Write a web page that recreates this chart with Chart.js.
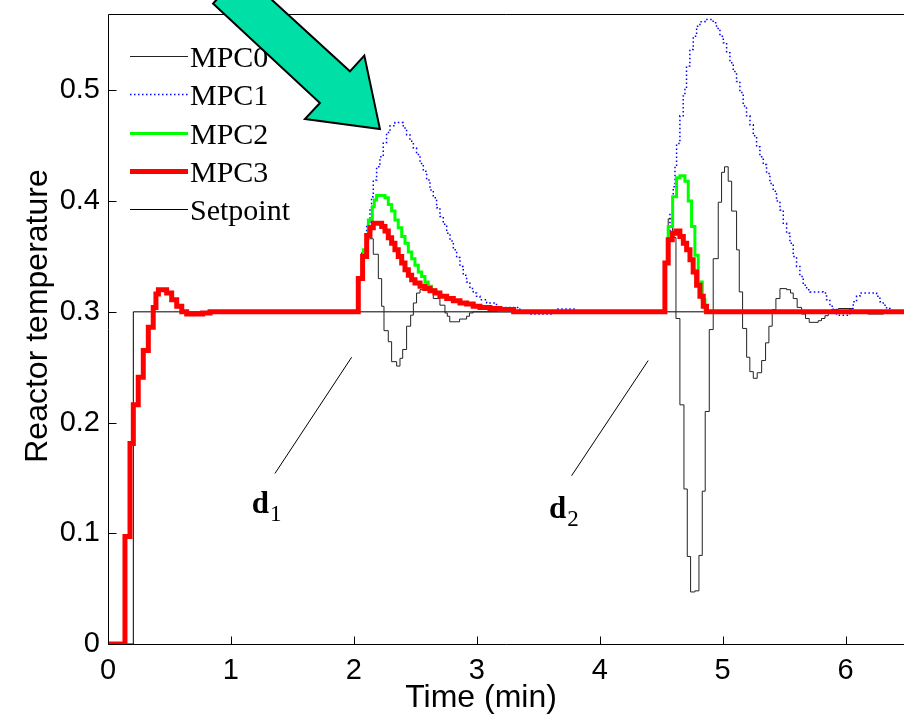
<!DOCTYPE html>
<html>
<head>
<meta charset="utf-8">
<script src="https://cdn.jsdelivr.net/npm/chart.js@4.4.1/dist/chart.umd.min.js"></script>
<style>
  html, body { margin: 0; padding: 0; background: #fff; }
  #wrap { width: 904px; height: 715px; }
</style>
</head>
<body>
<div id="wrap"><canvas id="chart" width="904" height="715"></canvas></div>
<script>
// Values (time in min, reactor temperature)
const tEnd = 6.475;
const yTop = 0.569;

// start-up transient, shared by all four controllers
const startT = [0, 0.138, 0.179, 0.206, 0.246, 0.287, 0.328, 0.368, 0.39, 0.41, 0.477, 0.518, 0.559, 0.60, 0.64, 0.77, 0.83];
const startV = [0, 0.097, 0.181, 0.216, 0.241, 0.265, 0.286, 0.304, 0.316, 0.320, 0.317, 0.311, 0.305, 0.300, 0.298, 0.299, 0.300];

// MPC0 (thin black)
const mpc0T = [2.036, 2.077, 2.118, 2.158, 2.199, 2.226, 2.245, 2.28, 2.307, 2.348, 2.375, 2.397, 2.429, 2.462, 2.484, 2.51, 2.538, 2.565, 2.62, 2.646, 2.70, 2.741, 2.76, 2.78, 2.86, 2.917, 2.94, 2.97,
  4.530, 4.557, 4.593, 4.62, 4.652, 4.685, 4.712, 4.739, 4.774, 4.807, 4.834, 4.858, 4.891, 4.923, 4.964, 4.991, 5.015, 5.045, 5.073, 5.113, 5.135, 5.162, 5.195, 5.221, 5.249, 5.281, 5.317, 5.349, 5.376, 5.403, 5.433, 5.466, 5.52, 5.552, 5.574, 5.606, 5.642, 5.674, 5.704, 5.777, 5.804, 5.832, 5.859, 5.886, 5.94, 6.05, 6.18, 6.31];
const mpc0V = [0.330, 0.350, 0.366, 0.352, 0.330, 0.305, 0.283, 0.273, 0.255, 0.251, 0.258, 0.266, 0.287, 0.297, 0.308, 0.317, 0.320, 0.323, 0.320, 0.312, 0.306, 0.299, 0.296, 0.291, 0.2935, 0.296, 0.299, 0.300,
  0.344, 0.384, 0.367, 0.294, 0.216, 0.140, 0.079, 0.047, 0.048, 0.080, 0.138, 0.210, 0.284, 0.348, 0.399, 0.426, 0.431, 0.418, 0.391, 0.356, 0.318, 0.285, 0.259, 0.246, 0.240, 0.245, 0.256, 0.272, 0.287, 0.302, 0.312, 0.321, 0.320, 0.317, 0.312, 0.304, 0.298, 0.294, 0.2905, 0.292, 0.294, 0.2965, 0.299, 0.302, 0.303, 0.300, 0.298, 0.300];

// MPC1 (blue dotted)
const mpc1T = [2.036, 2.063, 2.104, 2.131, 2.144, 2.158, 2.185, 2.212, 2.239, 2.266, 2.294, 2.334, 2.402, 2.429, 2.456, 2.484, 2.51, 2.538, 2.565, 2.592, 2.619, 2.646, 2.673, 2.70, 2.727, 2.755, 2.782, 2.809, 2.836, 2.863, 2.89, 2.917, 2.944, 2.971, 2.998, 3.026, 3.08, 3.16, 3.35, 3.44, 3.62, 3.66, 3.80,
  4.530, 4.557, 4.571, 4.598, 4.612, 4.625, 4.652, 4.679, 4.693, 4.706, 4.733, 4.761, 4.788, 4.815, 4.856, 4.923, 4.95, 4.978, 5.005, 5.032, 5.059, 5.086, 5.113, 5.14, 5.167, 5.194, 5.222, 5.249, 5.276, 5.303, 5.33, 5.357, 5.384, 5.411, 5.438, 5.466, 5.493, 5.52, 5.547, 5.574, 5.601, 5.628, 5.655, 5.683, 5.71, 5.818, 5.845, 5.872, 5.899, 5.926, 6.035, 6.062, 6.089, 6.116, 6.252, 6.279, 6.306, 6.333, 6.36];
const mpc1V = [0.330, 0.353, 0.377, 0.392, 0.404, 0.419, 0.431, 0.440, 0.453, 0.462, 0.468, 0.471, 0.466, 0.460, 0.454, 0.448, 0.442, 0.434, 0.427, 0.419, 0.410, 0.403, 0.394, 0.386, 0.379, 0.371, 0.364, 0.356, 0.349, 0.341, 0.333, 0.327, 0.321, 0.317, 0.314, 0.311, 0.308, 0.304, 0.301, 0.298, 0.301, 0.3025, 0.300,
  0.344, 0.371, 0.389, 0.413, 0.431, 0.452, 0.477, 0.495, 0.502, 0.522, 0.537, 0.549, 0.558, 0.562, 0.564, 0.561, 0.556, 0.549, 0.543, 0.534, 0.525, 0.517, 0.508, 0.498, 0.486, 0.477, 0.469, 0.459, 0.449, 0.440, 0.433, 0.425, 0.416, 0.409, 0.400, 0.392, 0.380, 0.371, 0.362, 0.350, 0.341, 0.332, 0.324, 0.320, 0.318, 0.317, 0.311, 0.305, 0.302, 0.297, 0.303, 0.309, 0.314, 0.317, 0.314, 0.309, 0.306, 0.303, 0.300];

// MPC2 (green)
const mpc2T = [2.036, 2.077, 2.104, 2.118, 2.15, 2.166, 2.185, 2.253, 2.28, 2.307, 2.334, 2.361, 2.389, 2.416, 2.443, 2.470, 2.497, 2.524, 2.551, 2.578, 2.605, 2.632, 2.66, 2.70, 2.755, 2.809, 2.863, 2.917, 2.971, 3.026, 3.107, 3.188, 3.30,
  4.530, 4.557, 4.593, 4.625, 4.652, 4.693, 4.72, 4.747, 4.774, 4.801, 4.834, 4.856];
const mpc2V = [0.330, 0.356, 0.366, 0.383, 0.395, 0.401, 0.405, 0.403, 0.397, 0.391, 0.383, 0.376, 0.368, 0.362, 0.354, 0.348, 0.342, 0.336, 0.332, 0.327, 0.323, 0.320, 0.317, 0.314, 0.312, 0.310, 0.308, 0.307, 0.305, 0.304, 0.303, 0.302, 0.300,
  0.344, 0.377, 0.404, 0.421, 0.423, 0.418, 0.400, 0.377, 0.351, 0.327, 0.311, 0.300];

// MPC3 (thick red)
const mpc3T = [2.036, 2.071, 2.104, 2.131, 2.158, 2.226, 2.253, 2.280, 2.307, 2.334, 2.361, 2.389, 2.416, 2.443, 2.470, 2.497, 2.538, 2.578, 2.619, 2.66, 2.70, 2.755, 2.809, 2.863, 2.917, 2.971, 3.026, 3.107, 3.188, 3.30,
  4.530, 4.557, 4.59, 4.62, 4.652, 4.68, 4.707, 4.734, 4.76, 4.788, 4.815, 4.842, 4.869];
const mpc3V = [0.330, 0.350, 0.369, 0.376, 0.380, 0.377, 0.373, 0.367, 0.362, 0.356, 0.350, 0.344, 0.338, 0.333, 0.329, 0.326, 0.323, 0.321, 0.319, 0.317, 0.314, 0.312, 0.310, 0.308, 0.307, 0.305, 0.304, 0.303, 0.302, 0.300,
  0.344, 0.365, 0.371, 0.373, 0.368, 0.362, 0.356, 0.347, 0.336, 0.324, 0.314, 0.305, 0.300];

// Setpoint
const spT = [0, 0.206, tEnd];
const spV = [0, 0.3, 0.3];

// Annotations (data coordinates)
const dNotes = [
  { name: "d", sub: "1", line: [[1.358, 0.154], [1.982, 0.259]], at: [1.169, 0.118] },
  { name: "d", sub: "2", line: [[3.771, 0.152], [4.394, 0.256]], at: [3.587, 0.1136] }
];
const arrowT = [0.854, 1.724, 1.602, 2.212, 2.085, 1.968, 1.09];
const arrowV = [0.5784, 0.4886, 0.4741, 0.4651, 0.5314, 0.5172, 0.6065];

function zip(ts, vs) {
  return ts.map((t, i) => ({ x: t, y: vs[i] }));
}

function series(ts, vs) {
  const pts = zip(startT.concat(ts), startV.concat(vs));
  pts.push({ x: tEnd, y: pts[pts.length - 1].y });
  return pts;
}

const sans = "'Liberation Sans', Arial, sans-serif";
const serif = "'Liberation Serif', 'Times New Roman', serif";

// axes frame, inward ticks, titles, legend, notes and arrow
const deco = {
  id: "deco",
  afterDraw(chart) {
    const { ctx, chartArea: a, scales: { x, y } } = chart;
    const L = Math.round(a.left) + 0.5, B = Math.round(a.bottom) + 0.5, T = Math.round(a.top) + 0.5;
    ctx.save();
    ctx.strokeStyle = "#000";
    ctx.lineWidth = 1;
    ctx.setLineDash([]);
    ctx.beginPath();
    ctx.moveTo(a.right, T); ctx.lineTo(L, T); ctx.lineTo(L, B); ctx.lineTo(a.right, B);
    x.ticks.forEach(t => {
      const px = Math.round(x.getPixelForValue(t.value)) + 0.5;
      ctx.moveTo(px, B); ctx.lineTo(px, B - 8);
    });
    y.ticks.forEach(t => {
      const py = Math.round(y.getPixelForValue(t.value)) + 0.5;
      ctx.moveTo(L, py); ctx.lineTo(L + 8, py);
    });
    ctx.stroke();

    // axis titles
    ctx.fillStyle = "#000";
    ctx.font = "32px " + sans;
    ctx.textAlign = "center";
    ctx.textBaseline = "alphabetic";
    ctx.fillText("Time (min)", 481, 707);
    ctx.save();
    ctx.translate(47, 316);
    ctx.rotate(-Math.PI / 2);
    ctx.fillText("Reactor temperature", 0, 0);
    ctx.restore();

    // legend
    ctx.textAlign = "left";
    ctx.font = "30px " + serif;
    chart.data.datasets.forEach((ds, i) => {
      const ly = Math.round(56 + i * 38.3);
      const off = ds.borderWidth % 2 ? 0.5 : 0;
      ctx.strokeStyle = ds.borderColor;
      ctx.lineWidth = ds.borderWidth;
      ctx.setLineDash(ds.borderDash || []);
      ctx.beginPath();
      ctx.moveTo(130, ly + off);
      ctx.lineTo(188, ly + off);
      ctx.stroke();
      ctx.fillText(ds.label, 190, ly + 10.5);
    });
    ctx.setLineDash([]);

    // disturbance notes
    ctx.strokeStyle = "#000";
    ctx.lineWidth = 1;
    dNotes.forEach(n => {
      ctx.beginPath();
      ctx.moveTo(x.getPixelForValue(n.line[0][0]), y.getPixelForValue(n.line[0][1]));
      ctx.lineTo(x.getPixelForValue(n.line[1][0]), y.getPixelForValue(n.line[1][1]));
      ctx.stroke();
      const px = x.getPixelForValue(n.at[0]), py = y.getPixelForValue(n.at[1]);
      ctx.font = "bold 31px " + serif;
      ctx.fillText(n.name, px, py);
      const w = ctx.measureText(n.name).width;
      ctx.font = "23px " + serif;
      ctx.fillText(n.sub, px + w + 1, py + 8);
    });

    // big arrow
    ctx.beginPath();
    arrowT.forEach((t, i) => {
      const px = x.getPixelForValue(t), py = y.getPixelForValue(arrowV[i]);
      if (i === 0) ctx.moveTo(px, py); else ctx.lineTo(px, py);
    });
    ctx.closePath();
    ctx.fillStyle = "rgb(0, 224, 166)";
    ctx.fill();
    ctx.lineWidth = 2;
    ctx.lineJoin = "miter";
    ctx.strokeStyle = "#000";
    ctx.stroke();
    ctx.restore();
  }
};

new Chart(document.getElementById("chart"), {
  type: "line",
  data: {
    datasets: [
      { label: "MPC0", data: series(mpc0T, mpc0V), borderColor: "#222", borderWidth: 1, order: 2 },
      { label: "MPC1", data: series(mpc1T, mpc1V), borderColor: "#0000ff", borderWidth: 1.5, borderDash: [1.5, 2.5], order: 3 },
      { label: "MPC2", data: series(mpc2T, mpc2V), borderColor: "#00ff00", borderWidth: 3, order: 1 },
      { label: "MPC3", data: series(mpc3T, mpc3V), borderColor: "#ff0000", borderWidth: 5, order: 0 },
      { label: "Setpoint", data: zip(spT, spV), borderColor: "#000", borderWidth: 1, order: 4 }
    ].map(ds => Object.assign(ds, { stepped: "before", pointRadius: 0, fill: false, tension: 0 }))
  },
  options: {
    responsive: false,
    devicePixelRatio: 1,
    animation: false,
    layout: { padding: { top: 14, right: 0, bottom: 0, left: 0 } },
    plugins: { legend: { display: false }, tooltip: { enabled: false } },
    scales: {
      x: {
        type: "linear", min: 0, max: tEnd,
        grid: { display: false, drawTicks: false },
        border: { display: false },
        ticks: { stepSize: 1, includeBounds: false, maxRotation: 0, color: "#000", padding: 10, font: { family: sans, size: 29 } },
        afterFit: s => { s.height = 71; s.paddingLeft = 0; s.paddingRight = 0; }
      },
      y: {
        min: 0, max: yTop,
        grid: { display: false, drawTicks: false },
        border: { display: false },
        ticks: { stepSize: 0.1, includeBounds: false, color: "#000", padding: 8, font: { family: sans, size: 29 } },
        afterFit: s => { s.width = 108; s.paddingTop = 0; s.paddingBottom = 0; }
      }
    }
  },
  plugins: [deco]
});
</script>
</body>
</html>
